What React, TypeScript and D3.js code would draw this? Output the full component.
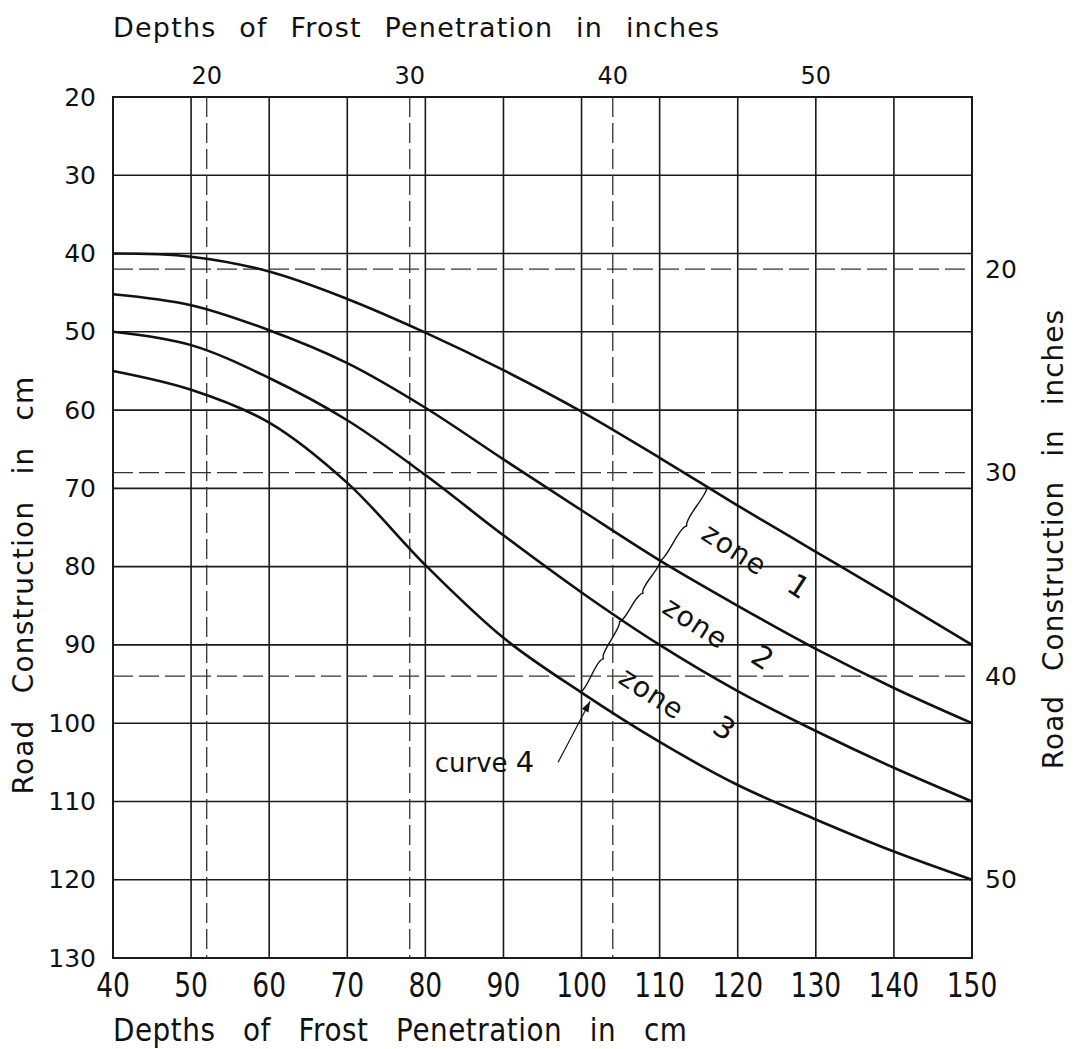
import React from "react";
import * as d3 from "d3";

// frost penetration (cm) along the bottom axis
const depthCm = [40, 50, 60, 70, 80, 90, 100, 110, 120, 130, 140, 150];

// road construction thickness (cm) for each curve, read at depthCm
const curve1 = [40, 40.4, 42.3, 45.8, 50.1, 54.9, 60.2, 66.1, 72.2, 78.1, 84, 90];
const curve2 = [45.2, 46.6, 49.8, 54, 59.7, 66.3, 72.8, 79.2, 85, 90.5, 95.5, 100];
const curve3 = [50, 51.7, 55.9, 61.3, 68.3, 76, 83.3, 90, 95.9, 101, 105.7, 110];
const curve4 = [55, 57.4, 61.6, 69.3, 79.8, 89.1, 96.1, 102.4, 107.9, 112.3, 116.4, 120];
const curves = [curve1, curve2, curve3, curve4];

const xTicks = [40, 50, 60, 70, 80, 90, 100, 110, 120, 130, 140, 150];
const yTicks = [20, 30, 40, 50, 60, 70, 80, 90, 100, 110, 120, 130];
const inchTicks = [20, 30, 40, 50];
const inchGuides = [20, 30, 40];

// zone brackets: [x1, y1, x2, y2] in cm
const brackets = [
  [116, 69.8, 110, 79.2],
  [110, 79.2, 104.8, 87],
  [104.8, 87, 99.8, 96],
];
const zoneNames = ["1", "2", "3"];
const zoneWordPos = [[119.6, 77.8], [114.6, 87.2], [109, 96.2]];
const zoneNumPos = [[127.8, 82.5], [123.2, 91.6], [118.3, 100.6]];

const W = 1081;
const H = 1049;
const left = 113, right = 972, top = 97, bottom = 958;

const font = "'DejaVu Sans', Verdana, sans-serif";

// curly brace between two points, tip pointing to the right-hand side
function brace(x1: number, y1: number, x2: number, y2: number, w: number) {
  const len = Math.hypot(x2 - x1, y2 - y1);
  const dx = (x2 - x1) / len, dy = (y2 - y1) / len;
  const q = 0.6;
  const nx = dy, ny = -dx;
  const qx1 = x1 + q * w * nx, qy1 = y1 + q * w * ny;
  const qx2 = x1 + 0.25 * len * dx + (1 - q) * w * nx, qy2 = y1 + 0.25 * len * dy + (1 - q) * w * ny;
  const tx = x1 + 0.5 * len * dx + w * nx, ty = y1 + 0.5 * len * dy + w * ny;
  const qx3 = x2 + q * w * nx, qy3 = y2 + q * w * ny;
  const qx4 = x1 + 0.75 * len * dx + (1 - q) * w * nx, qy4 = y1 + 0.75 * len * dy + (1 - q) * w * ny;
  return `M${x1},${y1} Q${qx1},${qy1} ${qx2},${qy2} T${tx},${ty} M${x2},${y2} Q${qx3},${qy3} ${qx4},${qy4} T${tx},${ty}`;
}

export default function App() {
  const x = d3.scaleLinear().domain([40, 150]).range([left, right]);
  const y = d3.scaleLinear().domain([20, 130]).range([top, bottom]);
  // inch scales as printed on the chart (top and right)
  const topInch = d3.scaleLinear().domain([20, 50]).range([52, 130]);
  const rightInch = d3.scaleLinear().domain([20, 50]).range([42, 120]);

  const line = d3
    .line<number>()
    .x((_, i) => x(depthCm[i]))
    .y((d) => y(d))
    .curve(d3.curveCatmullRom.alpha(0.5));

  const gridStroke = "#1a1a1a";
  const ink = "#111";

  return (
    <svg width={W} height={H} style={{ position: "absolute", left: 0, top: 0, background: "#fff" }} fontFamily={font}>
      <defs>
        <marker id="arr" viewBox="0 0 10 10" refX="10" refY="5" markerWidth="9" markerHeight="9" orient="auto">
          <path d="M0,1.5 L10,5 L0,8.5 z" fill={ink} />
        </marker>
      </defs>

      {/* grid */}
      {xTicks.map((t) => (
        <line key={"gx" + t} x1={x(t)} x2={x(t)} y1={top} y2={bottom} stroke={gridStroke} strokeWidth={1.6} />
      ))}
      {yTicks.map((t) => (
        <line key={"gy" + t} x1={left} x2={right} y1={y(t)} y2={y(t)} stroke={gridStroke} strokeWidth={1.6} />
      ))}
      <rect x={left} y={top} width={right - left} height={bottom - top} fill="none" stroke={gridStroke} strokeWidth={2} />

      {/* inch guide lines */}
      {inchGuides.map((t) => (
        <line key={"dv" + t} x1={x(topInch(t))} x2={x(topInch(t))} y1={top} y2={bottom} stroke="#333" strokeWidth={1.3} strokeDasharray="20 6" />
      ))}
      {inchGuides.map((t) => (
        <line key={"dh" + t} x1={left} x2={right} y1={y(rightInch(t))} y2={y(rightInch(t))} stroke="#333" strokeWidth={1.3} strokeDasharray="20 6" />
      ))}

      {/* curves */}
      {curves.map((c, i) => (
        <path key={"c" + i} d={line(c) || ""} fill="none" stroke={ink} strokeWidth={2.6} />
      ))}

      {/* zone brackets */}
      {brackets.map((b, i) => (
        <path key={"b" + i} d={brace(x(b[0]), y(b[1]), x(b[2]), y(b[3]), 5)} fill="none" stroke={ink} strokeWidth={1.4} />
      ))}

      {/* zone labels */}
      {zoneWordPos.map((p, i) => (
        <text key={"zw" + i} transform={`translate(${x(p[0])},${y(p[1])}) rotate(33)`} textAnchor="middle" dominantBaseline="central" fontSize={28} letterSpacing={1} fill={ink}>
          zone
        </text>
      ))}
      {zoneNumPos.map((p, i) => (
        <text key={"zn" + i} transform={`translate(${x(p[0])},${y(p[1])}) rotate(33)`} textAnchor="middle" dominantBaseline="central" fontSize={30} fill={ink}>
          {zoneNames[i]}
        </text>
      ))}

      {/* curve 4 label */}
      <text x={x(81.2)} y={y(106.2)} fontSize={26} fill={ink}>
        curve <tspan fontSize={29}>4</tspan>
      </text>
      <line x1={x(97)} y1={y(105)} x2={x(101.1)} y2={y(97.2)} stroke={ink} strokeWidth={1.2} markerEnd="url(#arr)" />

      {/* left axis */}
      {yTicks.map((t) => (
        <text key={"ly" + t} x={96} y={y(t)} textAnchor="end" dominantBaseline="central" fontSize={25} fill={ink}>
          {t}
        </text>
      ))}
      {/* bottom axis (condensed lettering) */}
      {xTicks.map((t) => (
        <text key={"bx" + t} transform={`translate(${x(t)},997) scale(0.78,1)`} textAnchor="middle" fontSize={34} fill={ink}>
          {t}
        </text>
      ))}
      {/* top axis */}
      {inchTicks.map((t) => (
        <text key={"tx" + t} x={x(topInch(t))} y={84} textAnchor="middle" fontSize={24} fill={ink}>
          {t}
        </text>
      ))}
      {/* right axis */}
      {inchTicks.map((t) => (
        <text key={"ry" + t} x={985} y={y(rightInch(t))} dominantBaseline="central" fontSize={25} fill={ink}>
          {t}
        </text>
      ))}

      {/* titles */}
      <text x={113} y={37} fontSize={27} letterSpacing={1.2} wordSpacing={13} fill={ink}>
        Depths of Frost Penetration in inches
      </text>
      <text transform="translate(113,1041) scale(0.87,1)" fontSize={32} letterSpacing={0.6} wordSpacing={21} fill={ink}>
        Depths of Frost Penetration in cm
      </text>
      <text transform="translate(33,585) rotate(-90)" textAnchor="middle" fontSize={28} letterSpacing={1.2} wordSpacing={16} fill={ink}>
        Road Construction in cm
      </text>
      <text transform="translate(1063,539) rotate(-90)" textAnchor="middle" fontSize={28} letterSpacing={1} wordSpacing={14} fill={ink}>
        Road Construction in inches
      </text>
    </svg>
  );
}
